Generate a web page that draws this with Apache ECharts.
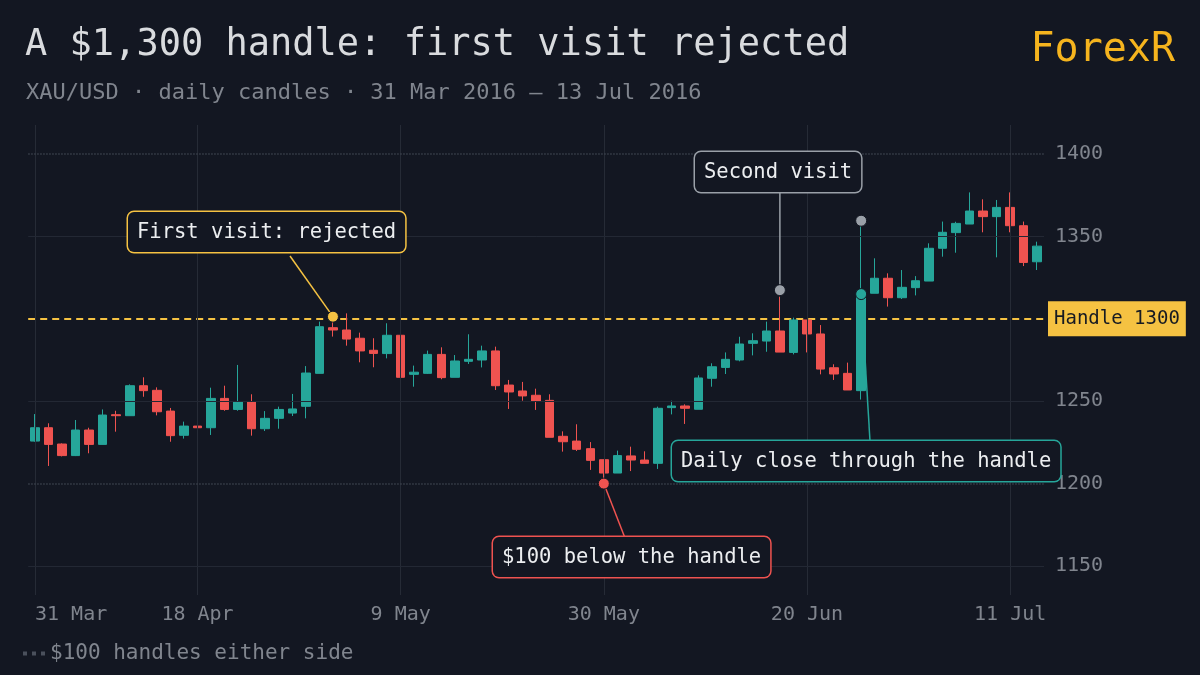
<!DOCTYPE html>
<html><head><meta charset="utf-8">
<script src="https://cdn.jsdelivr.net/npm/echarts@6/dist/echarts.min.js"></script>
<style>html,body{margin:0;padding:0;background:#131722;}#c{width:1200px;height:675px;}</style>
</head><body><div id="c"></div>
<script>
// trading days 31 Mar 2016 – 13 Jul 2016 (weekdays)
const dates = (function(){const m=['Jan','Feb','Mar','Apr','May','Jun','Jul'];const out=[];const d=new Date(Date.UTC(2016,2,31));const end=new Date(Date.UTC(2016,6,13));while(d<=end){const w=d.getUTCDay();if(w!==0&&w!==6)out.push(d.getUTCDate()+' '+m[d.getUTCMonth()]);d.setUTCDate(d.getUTCDate()+1);}return out;})();
const tickLabels = ['31 Mar','18 Apr','9 May','30 May','20 Jun','11 Jul'];
const opens  = [1225.8,1233.9,1224.0,1217.0,1232.5,1223.8,1241.8,1241.2,1259.4,1256.6,1244.0,1229.3,1234.9,1233.9,1251.7,1245.0,1249.5,1233.3,1239.6,1242.8,1246.9,1266.9,1294.6,1293.2,1288.2,1280.9,1278.9,1290.0,1266.3,1266.9,1278.4,1264.5,1274.2,1275.0,1280.5,1259.8,1256.2,1253.6,1250.5,1228.7,1225.8,1221.2,1214.5,1206.4,1216.8,1214.3,1212.3,1246.1,1247.1,1245.1,1263.9,1270.5,1275.0,1285.1,1286.5,1292.6,1279.6,1299.3,1290.8,1270.3,1266.9,1256.4,1315.5,1324.6,1312.8,1318.9,1322.9,1342.8,1352.3,1357.5,1365.4,1362.0,1367.6,1356.5,1334.6];
const closes = [1233.9,1223.8,1217.0,1232.5,1223.8,1241.6,1241.2,1259.4,1256.4,1243.6,1229.1,1234.9,1233.9,1251.7,1245.0,1249.5,1233.3,1239.6,1245.0,1245.3,1267.1,1295.2,1293.2,1287.7,1280.5,1279.0,1290.0,1264.5,1267.6,1278.4,1264.3,1274.4,1275.4,1280.5,1259.4,1255.6,1253.2,1250.1,1228.1,1225.4,1220.8,1214.1,1206.4,1217.0,1214.3,1212.3,1245.7,1247.1,1245.7,1264.1,1270.9,1275.4,1284.7,1286.7,1292.6,1279.8,1299.3,1290.8,1269.5,1266.5,1256.8,1314.0,1324.6,1312.8,1319.1,1323.1,1342.8,1352.5,1357.9,1365.4,1362.0,1367.6,1356.5,1334.2,1344.1];
const highs  = [1242.2,1236.6,1224.4,1238.6,1233.9,1245.0,1244.2,1260.2,1264.5,1258.4,1245.9,1237.6,1243.2,1258.2,1259.4,1272.0,1254.2,1244.0,1246.7,1254.4,1271.3,1298.3,1301.3,1303.3,1291.6,1288.2,1297.3,1290.0,1271.6,1280.7,1282.7,1278.0,1290.6,1283.7,1283.1,1262.9,1261.7,1257.6,1254.2,1231.7,1236.0,1225.2,1214.5,1220.0,1222.4,1219.6,1246.7,1250.3,1248.1,1265.7,1273.0,1279.6,1289.1,1291.2,1298.3,1313.4,1300.7,1299.3,1296.2,1272.4,1273.4,1359.5,1336.7,1327.6,1329.6,1325.9,1345.8,1359.0,1358.9,1376.7,1372.5,1372.1,1376.7,1359.0,1346.8];
const lows   = [1225.4,1210.7,1216.5,1216.7,1218.4,1223.8,1231.5,1241.2,1252.7,1241.4,1225.4,1227.3,1232.1,1229.5,1244.2,1244.2,1229.1,1231.9,1233.3,1241.0,1239.6,1266.9,1289.2,1283.7,1273.6,1270.6,1276.0,1262.9,1258.8,1266.5,1263.3,1264.5,1272.6,1270.5,1256.8,1245.3,1250.3,1244.7,1228.1,1219.4,1219.8,1208.3,1200.5,1206.4,1207.6,1212.3,1208.9,1242.0,1236.2,1245.1,1258.8,1266.5,1274.2,1277.8,1280.0,1279.8,1278.4,1279.6,1266.3,1262.9,1256.8,1251.0,1315.5,1307.4,1312.0,1314.2,1322.9,1337.7,1340.1,1357.5,1352.5,1337.3,1352.5,1332.0,1329.6];
const handle = 1300;
const handlesSide = [1200, 1400];
const gridLevels = [1150, 1250, 1350];
const yTicks = [1150, 1200, 1250, 1300, 1350, 1400];

const FONT = 'DejaVu Sans Mono';
const UP='#26a69a', DOWN='#ef5350', YEL='#f5c242', GREY='#9aa0a8';
const candle = dates.map((d,i)=>[opens[i],closes[i],lows[i],highs[i]]);
const tickIdx = tickLabels.map(t=>dates.indexOf(t));

const chart = echarts.init(document.getElementById('c'));
chart.setOption({
  backgroundColor:'#131722',
  animation:false,
  textStyle:{fontFamily:FONT},
  title:[
    {text:'A $1,300 handle: first visit rejected',left:20,top:22,textStyle:{fontFamily:FONT,fontSize:37,fontWeight:'normal',color:'#d9dbde'}},
    {text:'XAU/USD · daily candles · 31 Mar 2016 – 13 Jul 2016',left:21,top:77,textStyle:{fontFamily:FONT,fontSize:22,fontWeight:'normal',color:'#80858e'}},
    {text:'ForexR',right:20,top:26,textStyle:{fontFamily:FONT,fontSize:40,fontWeight:'normal',color:'#f5b41e'}}
  ],
  legend:{left:18,bottom:6,itemWidth:22,itemHeight:4,itemGap:6,icon:'path://M0,0h4v4h-4z M9,0h4v4h-4z M18,0h4v4h-4z',
    textStyle:{fontFamily:FONT,fontSize:21,color:'#80858e'},data:['$100 handles either side']},
  grid:{left:28.2,right:156,top:125,bottom:80},
  xAxis:{type:'category',data:dates,boundaryGap:true,
    axisLine:{show:false},axisTick:{show:false},splitLine:{show:false},
    axisLabel:{interval:(i)=>tickIdx.includes(i),alignMinLabel:'left',color:'#80858e',fontFamily:FONT,fontSize:20,margin:10}},
  yAxis:{type:'value',position:'right',min:1132.4,max:1417.6,scale:true,
    axisLine:{show:false},axisTick:{show:false},splitLine:{show:false},
    axisLabel:{customValues:yTicks,formatter:v=>String(v),color:'#80858e',fontFamily:FONT,fontSize:20,margin:11}},
  series:[
    {type:'candlestick',name:'XAU/USD',data:candle,barWidth:9,
      itemStyle:{color:UP,color0:DOWN,borderColor:UP,borderColor0:DOWN,borderWidth:1},
      markLine:{silent:true,symbol:'none',label:{show:false},
        data:[
          ...tickIdx.map(i=>({xAxis:i,lineStyle:{color:'#262b36',width:1,type:'solid'}})),
          ...gridLevels.map(v=>({yAxis:v,lineStyle:{color:'#232834',width:1,type:'solid'}}))
        ]}},
    {type:'line',name:'$100 handles either side',data:[],symbol:'none',
      itemStyle:{color:'#4a505c'},lineStyle:{color:'#4a505c',type:'dotted',width:1.5},
      markLine:{silent:true,symbol:'none',label:{show:false},lineStyle:{color:'#3a404c',type:'dotted',width:1.5},
        data:handlesSide.map(v=>({yAxis:v}))}},
    {type:'line',name:'handle',data:[],symbol:'none',
      markLine:{silent:true,symbol:'none',z:1,lineStyle:{color:YEL,type:[7,5],width:2},
        label:{show:true,position:'end',formatter:'Handle 1300',distance:4,color:'#161a22',backgroundColor:YEL,padding:[8,6,8,6],fontFamily:FONT,fontSize:19},
        data:[{yAxis:handle}]}},
  ]
});

const pts = {
  first:[22, highs[22], YEL],
  low:[42, lows[42]-0.5, DOWN],
  second:[55, highs[55]+4, GREY],
  second2:[61, highs[61], GREY],
  close:[61, closes[61]+1, UP]
};
const px = k=>chart.convertToPixel({gridIndex:0},[pts[k][0],pts[k][1]]);
function box(x,y,text,border){
  return {type:'text',x:x,y:y,z:20,style:{text:text,fontFamily:FONT,fontSize:20.5,fill:'#eceef0',
    backgroundColor:'#131722',borderColor:border,borderWidth:1.5,borderRadius:6,padding:[10,9,9,9]}};
}
function line(a,b,c){return {type:'line',z:15,shape:{x1:a[0],y1:a[1],x2:b[0],y2:b[1]},style:{stroke:c,lineWidth:1.5}};}
function dot(k){const p=px(k);return {type:'circle',z:25,shape:{cx:p[0],cy:p[1],r:5.5},style:{fill:pts[k][2],stroke:'#131722',lineWidth:1}};}
const pF=px('first'),pL=px('low'),pS=px('second'),pC=px('close');
chart.setOption({graphic:[
  line(pF,[290,256],YEL), box(128,212,'First visit: rejected',YEL),
  line(pL,[625,538],DOWN), box(493,537,'$100 below the handle',DOWN),
  line(pS,[pS[0],193],GREY), box(695,152,'Second visit',GREY),
  line(pC,[870,441],UP), box(672,441,'Daily close through the handle',UP),
  dot('first'),dot('low'),dot('second'),dot('second2'),dot('close')
]});
</script></body></html>
